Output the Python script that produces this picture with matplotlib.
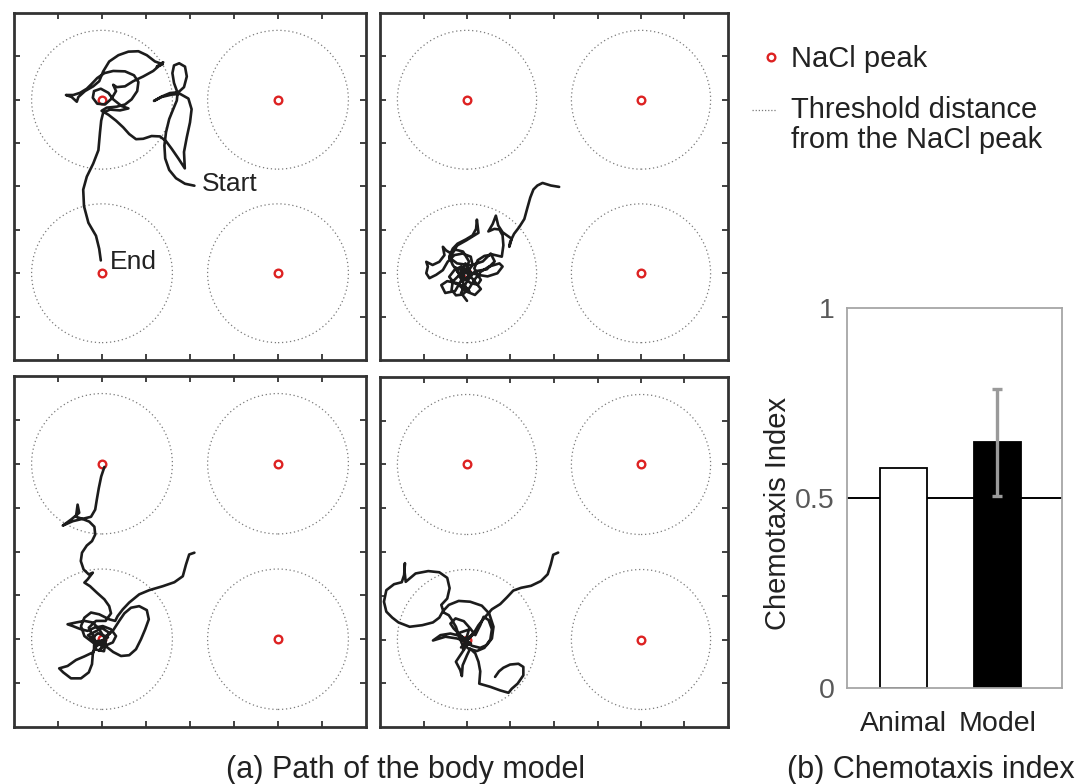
import numpy as np
import matplotlib.pyplot as plt
from matplotlib.lines import Line2D
from matplotlib.patches import Circle

plt.rcParams['font.family'] = ['Liberation Sans', 'DejaVu Sans']

W, H = 1085, 784

# arena is 88 x 88 mm, four NaCl peaks, threshold radius around each
arena = 88
peak_x = [22, 66, 22, 66]
peak_y = [66, 66, 22, 22]
threshold_r = 17.6

# body trajectories (x, y in mm)
path_1 = [
    (45.1, 44.2), (42.75, 44.7), (40.5, 46.1), (38.8, 48.2), (37.8, 51.1), (37.6, 54.4),
    (38.0, 57.75), (38.8, 61.1), (39.8, 63.6), (40.7, 65.8), (40.9, 67.75), (40.0, 70.25),
    (39.6, 72.75), (40.0, 74.7), (41.3, 75.25), (42.75, 74.4), (43.2, 71.9), (42.5, 69.2),
    (41.1, 67.9), (39.0, 67.7), (36.9, 66.8), (35.0, 65.7), (36.9, 66.7), (39.4, 67.3),
    (41.5, 67.5), (43.6, 66.3), (44.4, 63.6), (44.0, 60.25), (43.2, 56.5), (42.5, 52.75),
    (42.7, 48.6), (41.1, 51.1), (39.4, 53.6), (38.0, 55.5), (36.5, 56.7), (34.4, 56.8),
    (32.3, 56.1), (30.5, 56.0), (28.8, 57.3), (27.3, 59.0), (25.5, 60.7), (23.6, 62.2),
    (21.9, 63.2), (23.2, 64.0), (25.7, 64.25), (27.75, 64.8), (29.4, 66.1), (30.8, 68.2),
    (31.1, 70.5), (30.0, 72.2), (27.75, 73.2), (24.8, 73.3), (22.6, 72.75), (20.8, 71.5),
    (19.4, 70.0), (18.2, 68.8), (16.5, 67.75), (14.8, 67.2), (13.0, 67.2), (14.4, 66.7),
    (15.7, 65.5), (16.1, 66.7), (17.75, 68.2), (19.8, 69.4), (21.3, 70.7), (22.3, 73.2),
    (23.8, 75.7), (26.1, 77.3), (28.6, 78.2), (31.1, 78.3), (33.2, 77.3), (35.25, 75.7),
    (37.2, 75.0), (35.7, 74.4), (37.3, 75.5), (34.8, 73.3), (32.3, 71.9), (29.8, 70.7),
    (27.75, 69.4), (25.7, 69.2), (24.8, 69.8), (25.5, 68.2), (24.4, 66.3), (22.75, 64.8),
    (20.8, 65.0), (19.7, 66.5), (20.0, 68.2), (21.7, 68.8), (23.6, 67.75), (24.8, 66.1),
    (26.9, 64.4), (28.6, 63.8), (26.5, 63.3), (24.0, 63.5), (22.3, 62.75), (21.8, 60.7),
    (21.5, 57.75), (21.1, 53.2), (19.8, 49.8), (18.2, 46.5), (17.3, 43.2), (17.5, 39.0),
    (18.6, 34.8), (20.5, 31.5), (21.3, 28.2), (21.7, 25.25),
]

path_2 = [
    (45.3, 43.9), (43.2, 44.25), (41.1, 44.9), (39.8, 44.25), (38.8, 43.25), (38.0, 41.2),
    (37.3, 38.7), (36.5, 35.75), (35.2, 33.7), (33.9, 32.0), (32.9, 29.9), (32.7, 28.7),
    (33.3, 30.75), (32.1, 31.6), (31.0, 32.4), (29.9, 34.1), (29.3, 36.6), (28.5, 34.5),
    (27.4, 32.6), (28.9, 33.25), (30.2, 33.1), (31.0, 31.6), (31.2, 29.1), (30.8, 26.2),
    (28.5, 26.75), (26.4, 26.4), (24.7, 25.3), (23.85, 23.25), (24.7, 21.6), (27.2, 21.2),
    (29.7, 22.0), (31.0, 23.7), (30.2, 24.5), (27.6, 23.7), (25.5, 22.4), (23.85, 20.3),
    (22.6, 18.25), (20.9, 16.6), (19.2, 16.4), (18.1, 17.8), (18.4, 19.9), (20.1, 21.6),
    (22.2, 22.4), (23.4, 24.1), (22.95, 26.2), (20.9, 27.0), (18.8, 26.6), (17.1, 24.9),
    (15.9, 22.8), (14.2, 21.6), (12.5, 20.75), (11.7, 22.0), (12.1, 23.7), (11.7, 24.9),
    (13.3, 24.1), (15.0, 24.9), (16.3, 26.6), (15.9, 28.7), (16.7, 27.8), (18.0, 27.0),
    (19.6, 29.1), (21.75, 30.3), (23.85, 31.6), (24.9, 32.25), (24.5, 35.6), (24.3, 33.25),
    (23.4, 31.6), (21.75, 30.6), (19.6, 29.5), (18.4, 28.25), (17.5, 26.2), (18.4, 24.1),
    (19.6, 22.4), (21.3, 20.75), (22.95, 19.5), (24.7, 19.1), (25.5, 20.3), (24.7, 21.6),
    (22.2, 22.4), (20.5, 23.7), (18.8, 22.8), (17.5, 21.1), (18.8, 19.5), (21.3, 18.7),
    (22.6, 17.4), (21.3, 19.0), (20.0, 21.5), (21.6, 24.5), (23.0, 22.0), (21.0, 20.0),
    (19.0, 23.5), (21.8, 22.2), (23.5, 20.5), (25.5, 18.0), (24.0, 16.5), (21.5, 17.5),
    (19.5, 19.5), (17.0, 20.0), (15.5, 19.0), (16.5, 17.0), (19.0, 17.5), (21.0, 21.0),
    (22.5, 25.0), (21.0, 27.5), (19.0, 28.0), (17.5, 26.0), (19.5, 24.5), (23.0, 24.0),
    (26.0, 25.0), (28.0, 27.0), (29.0, 25.0), (27.0, 23.0), (24.0, 22.5), (22.0, 20.0),
    (20.5, 17.0), (22.0, 15.0),
]

path_3 = [
    (45.1, 43.7), (43.8, 43.25), (43.0, 40.75), (42.2, 37.8), (40.1, 36.3), (37.2, 35.3),
    (33.8, 34.3), (31.3, 33.25), (28.8, 31.2), (27.2, 29.5), (25.9, 27.8), (25.3, 26.6),
    (23.8, 27.0), (21.3, 28.25), (19.25, 28.7), (17.6, 27.4), (16.75, 25.3), (17.6, 22.8),
    (19.7, 21.2), (22.6, 20.3), (24.7, 21.2), (25.5, 22.8), (24.25, 24.5), (22.2, 25.3),
    (20.1, 24.9), (18.4, 24.1), (16.75, 24.5), (14.7, 25.3), (13.4, 25.75), (15.5, 26.2),
    (17.6, 26.6), (19.7, 26.2), (21.3, 24.5), (22.6, 22.4), (22.2, 20.3), (21.3, 19.1),
    (22.6, 21.0), (23.0, 22.8), (24.7, 24.1), (26.3, 26.6), (27.6, 28.5), (29.25, 29.9),
    (31.3, 30.3), (33.2, 29.3), (33.7, 27.0), (32.8, 24.5), (31.75, 22.0), (30.5, 19.5),
    (28.8, 18.0), (26.75, 17.8), (24.8, 18.8), (23.4, 19.9), (21.75, 20.75), (20.3, 20.3),
    (19.7, 18.25), (19.5, 15.75), (18.7, 13.7), (16.75, 12.2), (14.25, 12.2), (12.3, 13.7),
    (11.3, 14.7), (13.4, 15.3), (15.5, 16.8), (17.6, 17.7), (19.7, 18.7), (20.9, 20.75),
    (23.5, 22.5), (21.0, 23.5), (19.0, 22.0), (21.5, 21.0), (24.0, 23.5), (22.0, 24.8),
    (18.5, 23.0), (20.5, 21.5), (23.0, 21.8), (22.5, 19.0), (20.0, 19.5),
    (20.1, 22.4), (19.25, 23.7), (18.7, 24.9), (20.5, 26.6), (22.9, 26.6), (24.25, 28.5),
    (23.8, 30.3), (22.6, 32.0), (20.7, 33.7), (19.0, 35.3), (17.6, 36.2), (18.4, 37.0),
    (19.7, 38.7), (18.7, 38.25), (17.4, 39.5), (16.7, 41.6), (17.0, 43.7), (18.2, 45.5),
    (19.5, 46.6), (20.3, 48.25), (20.1, 50.2), (18.8, 51.5), (16.75, 52.3), (15.5, 52.7),
    (15.9, 55.75), (16.3, 53.7), (14.25, 52.0), (12.2, 50.5), (14.7, 51.6), (17.2, 52.2),
    (19.25, 52.7), (20.3, 54.5), (20.7, 57.0), (21.2, 59.9), (21.8, 62.8), (22.6, 65.2),
]

path_4 = [
    (45.05, 43.85), (43.8, 43.3), (43.2, 40.9), (42.4, 38.4), (40.7, 36.7), (38.2, 35.5),
    (35.7, 35.0), (33.7, 34.3), (32.1, 32.6), (30.4, 30.9), (28.3, 29.6), (26.6, 27.7),
    (24.9, 25.6), (23.4, 23.1), (22.0, 21.8), (20.3, 23.1), (18.6, 24.8), (17.8, 26.0),
    (19.1, 27.3), (21.2, 26.6), (22.8, 24.8), (24.1, 23.1), (25.35, 25.6), (26.2, 27.7),
    (27.45, 26.9), (28.3, 24.6), (27.9, 22.0), (26.4, 19.9), (24.5, 19.1), (22.4, 19.7),
    (20.7, 21.0), (19.9, 23.1), (19.2, 25.2), (18.2, 26.9), (17.4, 28.1), (16.1, 28.8),
    (15.5, 30.7), (17.0, 32.3), (17.6, 34.9), (17.0, 37.5), (15.0, 38.9), (12.2, 39.2),
    (9.0, 38.6), (6.5, 36.5), (6.2, 39.2), (6.3, 41.2), (6.1, 38.2), (5.5, 36.4),
    (3.55, 35.9), (1.6, 34.4), (1.0, 31.5), (1.6, 29.0), (3.1, 27.5), (4.65, 26.3),
    (7.5, 25.2), (10.7, 25.6), (13.4, 26.3), (15.0, 27.5), (15.9, 29.1), (17.4, 30.7),
    (19.9, 31.7), (22.8, 31.5), (25.75, 30.5), (27.6, 28.55), (28.7, 25.2), (28.3, 22.25),
    (27.0, 20.6), (25.35, 19.9), (23.3, 20.4), (21.4, 21.6), (19.5, 22.25), (16.55, 22.7),
    (13.4, 21.75), (15.3, 23.1), (17.8, 23.5), (20.3, 22.9), (21.75, 21.75), (23.5, 23.5),
    (20.5, 20.0), (23.0, 21.0), (19.5, 23.5), (22.5, 24.5), (21.0, 19.5), (21.4, 19.7),
    (20.3, 18.05), (19.2, 16.4), (20.3, 14.3), (20.7, 12.8), (20.9, 15.5), (22.0, 18.05),
    (22.8, 19.7), (24.1, 18.5), (24.9, 16.4), (25.35, 14.0), (25.1, 10.9), (27.9, 10.1),
    (30.4, 9.2), (32.5, 8.6), (33.3, 9.6), (34.8, 10.9), (36.25, 13.0), (36.25, 15.1),
    (35.0, 15.9), (32.9, 15.7), (31.2, 14.9), (30.1, 14.0), (29.1, 12.6),
]

paths = [path_1, path_2, path_3, path_4]

# chemotaxis index
groups = ['Animal', 'Model']
ci_mean = [0.579, 0.647]
ci_err = [0.0, 0.141]


def fig_box(x0, y0, x1, y1):
    return [x0 / W, 1 - y1 / H, (x1 - x0) / W, (y1 - y0) / H]


fig = plt.figure(figsize=(W / 100, H / 100), dpi=100)

boxes = [(14, 13, 366, 360), (380, 13, 728, 360),
         (14, 376, 366, 727), (380, 377, 728, 727)]
axes = []
for box, path in zip(boxes, paths):
    ax = fig.add_axes(fig_box(*box))
    for px, py in zip(peak_x, peak_y):
        ax.add_patch(Circle((px, py), threshold_r, fill=False,
                            ls=(0, (1, 2.2)), lw=0.9, ec='#7a7a7a'))
    ax.plot(peak_x, peak_y, 'o', ms=5.5, mfc='none', mec='#dd2222',
            mew=1.7, ls='none', zorder=2)
    xs, ys = zip(*path)
    ax.plot(xs, ys, color='#1c1c1c', lw=1.9, solid_joinstyle='round',
            solid_capstyle='round', zorder=3)
    ax.set_xlim(0, arena)
    ax.set_ylim(0, arena)
    ax.set_xticks(np.arange(11, arena, 11))
    ax.set_yticks(np.arange(11, arena, 11))
    ax.tick_params(direction='in', length=4, width=1.3, color='#333333',
                   top=True, right=True, labelbottom=False, labelleft=False)
    for s in ax.spines.values():
        s.set_linewidth(2.0)
        s.set_color('#333333')
    axes.append(ax)

axes[0].text(46.9, 42.75, 'Start', fontsize=19, color='#222222', va='baseline')
axes[0].text(24.0, 23.0, 'End', fontsize=19, color='#222222', va='baseline')

# legend drawn at figure level
fig.add_artist(Line2D([771 / W], [1 - 57 / H], marker='o', ms=5.5, mfc='none',
                      mec='#dd2222', mew=1.7, ls='none'))
fig.add_artist(Line2D([752 / W, 777 / W], [1 - 110 / H, 1 - 110 / H],
                      color='#7a7a7a', lw=0.9, ls=(0, (1, 1.5))))
fig.text(791 / W, 1 - 66.7 / H, 'NaCl peak', fontsize=21, color='#222222', va='baseline')
fig.text(791 / W, 1 - 118 / H, 'Threshold distance', fontsize=21, color='#222222', va='baseline')
fig.text(791 / W, 1 - 148 / H, 'from the NaCl peak', fontsize=21, color='#222222', va='baseline')

# chemotaxis index bars
axb = fig.add_axes(fig_box(847.3, 308.3, 1061.7, 688.3))
xpos = np.arange(1, len(groups) + 1)
axb.axhline(0.5, color='black', lw=1.4, zorder=1)
axb.bar(xpos, ci_mean, width=0.5, color=['white', 'black'],
        edgecolor='black', linewidth=1.3, zorder=2)
axb.errorbar(xpos[1], ci_mean[1], yerr=ci_err[1], color='#9a9a9a',
             lw=2.4, capsize=3.5, capthick=2.4, zorder=3)
axb.set_xlim(0.4, 2.69)
axb.set_ylim(0, 1)
axb.set_yticks([0, 0.5, 1], ['0', '0.5', '1'])
axb.set_xticks(xpos, groups)
axb.tick_params(length=0, labelsize=20.5)
axb.tick_params(axis='y', labelcolor='#595959', pad=9)
axb.tick_params(axis='x', labelcolor='#222222', pad=16)
for s in axb.spines.values():
    s.set_linewidth(1.3)
    s.set_color('#a6a6a6')
fig.text(778 / W, 1 - 513 / H, 'Chemotaxis Index', rotation=90, fontsize=21,
         color='#222222', ha='center', va='center')

fig.text(405 / W, 1 - 778 / H, '(a) Path of the body model', fontsize=22,
         color='#222222', ha='center', va='baseline')
fig.text(931 / W, 1 - 778 / H, '(b) Chemotaxis index', fontsize=22,
         color='#222222', ha='center', va='baseline')

fig.savefig('out.png', dpi=100)
